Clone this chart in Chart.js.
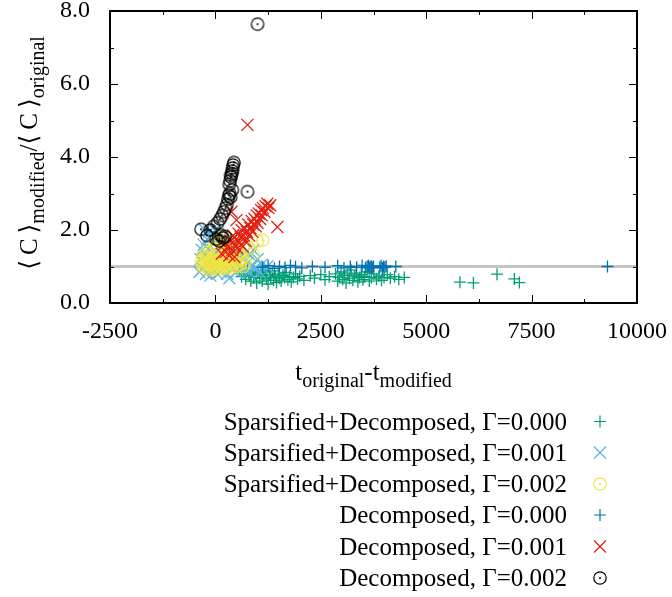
<!DOCTYPE html>
<html>
<head>
<meta charset="utf-8">
<script src="https://cdn.jsdelivr.net/npm/chart.js@4.4.1/dist/chart.umd.min.js"></script>
<style>
  html, body { margin: 0; background: #fff; }
</style>
</head>
<body>
<canvas id="scatterChart" width="672" height="597"></canvas>
<script>
// values: [t_original - t_modified, <C>mod/<C>orig]
const sparseG000 = [
    [570, 0.88], [620, 0.72], [680, 0.80], [720, 0.65], [760, 0.90], [800, 0.75], [840, 0.60], [880, 0.85],
    [910, 0.70], [950, 0.78], [980, 0.55], [1010, 0.82], [1050, 0.68], [1080, 0.90], [1110, 0.60], [1150, 0.75],
    [1180, 0.85], [1210, 0.66], [1250, 0.52], [1280, 0.78], [1310, 0.70], [1350, 0.88], [1380, 0.62], [1420, 0.74],
    [1450, 0.56], [1490, 0.80], [1520, 0.68], [1560, 0.60], [1600, 0.76], [1640, 0.70], [1680, 0.84], [1720, 0.64],
    [1760, 0.72], [1800, 0.58], [1850, 0.70], [1900, 0.80], [1950, 0.66], [2000, 0.73], [2100, 0.62], [2250, 0.75],
    [2350, 0.68], [2500, 0.78], [2600, 0.64], [2700, 0.72], [2850, 0.80], [2900, 0.60], [2940, 0.70], [2980, 0.85],
    [3020, 0.65], [3060, 0.75], [3100, 0.55], [3140, 0.80], [3180, 0.68], [3220, 0.90], [3260, 0.62], [3300, 0.74],
    [3340, 0.82], [3380, 0.58], [3420, 0.70], [3460, 0.78], [3500, 0.64], [3540, 0.72], [3600, 0.85], [3650, 0.60],
    [3700, 0.70], [3760, 0.80], [3820, 0.66], [3880, 0.74], [3940, 0.62], [4000, 0.70], [4080, 0.78], [4150, 0.68],
    [4250, 0.72], [4350, 0.65], [4480, 0.70],
    [5800, 0.57], [6120, 0.55], [6680, 0.79], [7090, 0.66], [7210, 0.56]
];
const sparseG001 = [
    [-380, 0.85], [-350, 1.20], [-320, 1.45], [-300, 0.95], [-280, 1.60], [-250, 1.30], [-220, 0.80], [-200, 1.75],
    [-180, 1.10], [-150, 1.50], [-120, 0.75], [-100, 1.85], [-80, 1.25], [-50, 0.90], [-30, 1.65], [0, 2.00],
    [20, 1.40], [40, 0.80], [60, 1.90], [80, 1.20], [100, 1.60], [120, 0.85], [150, 1.80], [170, 1.35],
    [200, 1.00], [220, 1.70], [250, 1.50], [280, 0.80], [300, 1.25], [330, 1.65], [360, 1.45], [400, 0.90],
    [420, 1.35], [450, 1.60], [480, 1.15], [500, 0.85], [530, 1.45], [560, 1.30], [600, 0.95], [630, 1.55],
    [660, 1.20], [700, 0.90], [730, 1.40], [760, 1.10], [800, 0.85], [830, 1.30], [870, 1.00], [900, 1.45],
    [950, 0.95], [1000, 1.20], [1050, 0.85], [1100, 1.05], [1150, 0.90], [1230, 1.00], [-250, 2.00], [-150, 1.95],
    [330, 0.68]
];
const sparseG002 = [
    [-330, 1.15], [-300, 1.05], [-280, 1.20], [-250, 0.95], [-220, 1.10], [-200, 1.25], [-180, 1.00], [-150, 1.15],
    [-120, 0.92], [-100, 1.05], [-80, 1.20], [-50, 1.10], [-30, 0.95], [0, 1.00], [20, 1.15], [40, 1.30],
    [60, 1.05], [80, 0.90], [100, 1.10], [120, 1.20], [150, 1.00], [170, 1.15], [200, 1.05], [220, 0.95],
    [250, 1.20], [280, 1.10], [300, 1.00], [330, 1.15], [360, 0.95], [400, 1.05], [430, 1.20], [460, 1.10],
    [500, 1.00], [540, 1.15], [580, 1.05], [620, 1.20], [660, 1.00], [700, 1.10],
    [-60, 1.45], [-20, 1.60], [30, 1.50], [80, 1.75], [120, 1.65], [160, 1.85], [200, 1.55], [240, 1.40],
    [300, 1.70], [350, 1.45], [450, 1.50], [520, 1.35], [600, 1.40], [700, 1.60], [800, 1.50], [900, 1.35],
    [1000, 1.70], [1120, 1.72], [-200, 1.40], [-300, 1.30]
];
const decompG000 = [
    [1120, 0.98], [1250, 1.02], [1400, 0.95], [1520, 1.00], [1650, 0.97], [1780, 1.03], [1900, 0.99], [2050, 0.96],
    [2300, 1.00], [2600, 0.98], [2900, 1.02], [3050, 0.96], [3200, 1.00], [3350, 0.98], [3480, 1.03], [3560, 0.97],
    [3600, 1.00], [3630, 1.02], [3650, 0.96], [3670, 0.99], [3700, 1.01], [3720, 0.97], [3750, 1.00], [3900, 0.98],
    [3930, 1.02], [3960, 0.96], [3990, 1.00], [4020, 0.98], [4050, 1.01], [4280, 1.00], [9300, 1.00]
];
const decompG001 = [
    [250, 1.40], [300, 1.55], [330, 1.30], [360, 1.70], [400, 1.45], [420, 1.85], [450, 1.26], [470, 1.60],
    [500, 1.75], [520, 1.50], [550, 1.90], [570, 1.65], [600, 1.80], [620, 2.00], [650, 1.55], [670, 1.85],
    [700, 2.05], [720, 1.70], [750, 1.95], [780, 2.15], [800, 1.85], [830, 2.05], [860, 2.25], [880, 1.95],
    [900, 2.15], [930, 2.30], [960, 2.10], [980, 2.40], [1000, 2.20], [1030, 2.45], [1060, 2.30], [1080, 2.55],
    [1100, 2.40], [1130, 2.60], [1160, 2.50], [1190, 2.65], [1230, 2.72], [1260, 2.60], [1300, 2.68],
    [1470, 2.08], [760, 4.88], [380, 2.50], [500, 2.27], [200, 1.60], [150, 1.35]
];
const decompG002 = [
    [-340, 2.02], [-200, 1.85], [-120, 2.00], [-40, 2.10], [20, 1.75], [50, 2.20], [90, 1.70], [110, 2.30],
    [140, 1.85], [160, 2.40], [180, 1.78], [200, 2.50], [230, 1.82], [240, 2.60], [270, 2.70], [300, 2.85],
    [320, 2.95], [340, 3.00], [400, 3.10], [360, 2.90], [330, 3.25], [350, 3.35], [370, 3.45], [390, 3.55],
    [400, 3.62], [410, 3.70], [420, 3.78], [440, 3.85], [360, 3.50], [760, 3.05], [1000, 7.64]
];

const seriesLabels = [
    'Sparsified+Decomposed, \u0393=0.000',
    'Sparsified+Decomposed, \u0393=0.001',
    'Sparsified+Decomposed, \u0393=0.002',
    'Decomposed, \u0393=0.000',
    'Decomposed, \u0393=0.001',
    'Decomposed, \u0393=0.002'
];
const seriesData = [sparseG000, sparseG001, sparseG002, decompG000, decompG001, decompG002];
const seriesColors = ['#009e73', '#56b4e9', '#f0e442', '#0072b2', '#e51e10', '#000000'];
const seriesMarkers = ['cross', 'crossRot', 'ring', 'cross', 'crossRot', 'ring'];

const xTicks = { min: -2500, max: 10000, step: 1250, labelEvery: 2500 };
const yTicks = { min: 0, max: 8, step: 1, labelEvery: 2 };
const referenceLevel = 1.0;

const SERIF = '"Liberation Serif", "DejaVu Serif", serif';

// gnuplot style circle with a dot in the middle
function ringImage(color) {
    const c = document.createElement('canvas');
    c.width = 16;
    c.height = 16;
    const g = c.getContext('2d');
    g.strokeStyle = color;
    g.fillStyle = color;
    g.lineWidth = 1.2;
    g.beginPath();
    g.arc(8, 8, 6.2, 0, Math.PI * 2);
    g.stroke();
    g.beginPath();
    g.arc(8, 8, 1.0, 0, Math.PI * 2);
    g.fill();
    return c;
}

function markerStyle(i) {
    const m = seriesMarkers[i];
    if (m === 'ring') return { pointStyle: ringImage(seriesColors[i]), radius: 7 };
    if (m === 'crossRot') return { pointStyle: 'crossRot', radius: 8.5 };
    return { pointStyle: 'cross', radius: 6 };
}

// draws text with subscripts, centred on x
function drawRich(ctx, parts, cx, baseline) {
    let total = 0;
    parts.forEach(p => {
        ctx.font = (p.sub ? '20px ' : '25px ') + SERIF;
        p.w = ctx.measureText(p.t).width;
        total += p.w;
    });
    let x = cx - total / 2;
    ctx.textAlign = 'left';
    ctx.textBaseline = 'alphabetic';
    parts.forEach(p => {
        ctx.font = (p.sub ? '20px ' : '25px ') + SERIF;
        ctx.fillText(p.t, x, baseline + (p.sub ? 7 : 0));
        x += p.w;
    });
}

const framePlugin = {
    id: 'gnuplotFrame',
    afterDatasetsDraw(chart) {
        const { ctx, chartArea: a, scales } = chart;
        ctx.save();
        ctx.strokeStyle = '#000';
        ctx.lineWidth = 1;
        ctx.beginPath();
        scales.x.ticks.forEach(t => {
            const px = Math.round(scales.x.getPixelForValue(t.value)) + 0.5;
            const len = t.value % xTicks.labelEvery === 0 ? 8 : 4;
            ctx.moveTo(px, a.bottom); ctx.lineTo(px, a.bottom - len);
            ctx.moveTo(px, a.top); ctx.lineTo(px, a.top + len);
        });
        scales.y.ticks.forEach(t => {
            const py = Math.round(scales.y.getPixelForValue(t.value)) + 0.5;
            const len = t.value % yTicks.labelEvery === 0 ? 8 : 4;
            ctx.moveTo(a.left, py); ctx.lineTo(a.left + len, py);
            ctx.moveTo(a.right, py); ctx.lineTo(a.right - len, py);
        });
        ctx.stroke();
        ctx.lineWidth = 2;
        ctx.strokeRect(a.left, a.top, a.right - a.left, a.bottom - a.top);
        ctx.restore();
    },
    afterDraw(chart) {
        const { ctx, chartArea: a } = chart;
        ctx.save();
        ctx.fillStyle = '#000';

        // x axis title
        drawRich(ctx, [
            { t: 't' }, { t: 'original', sub: true }, { t: '-t' }, { t: 'modified', sub: true }
        ], (a.left + a.right) / 2, 380);

        // y axis title
        ctx.save();
        ctx.translate(37, 153);
        ctx.rotate(-Math.PI / 2);
        drawRich(ctx, [
            { t: '\u27e8\u2009C\u2009\u27e9' }, { t: 'modified', sub: true },
            { t: '/\u27e8\u2009C\u2009\u27e9' }, { t: 'original', sub: true }
        ], 0, 0);
        ctx.restore();

        // legend, text right aligned with marker on the right
        const rowY = [421.5, 452.5, 484, 515, 546.5, 578];
        chart.data.datasets.forEach((ds, i) => {
            if (i >= seriesLabels.length) return;
            const y = rowY[i];
            ctx.font = '25px ' + SERIF;
            ctx.textAlign = 'right';
            ctx.textBaseline = 'alphabetic';
            ctx.fillStyle = '#000';
            ctx.fillText(seriesLabels[i], 567, y + 8);
            ctx.strokeStyle = seriesColors[i];
            ctx.lineWidth = 1.2;
            const st = markerStyle(i);
            Chart.helpers.drawPoint(ctx, {
                pointStyle: st.pointStyle, radius: st.radius, rotation: 0, borderWidth: 1.2
            }, 600, y);
        });
        ctx.restore();
    }
};

const datasets = seriesData.map((points, i) => {
    const st = markerStyle(i);
    return {
        type: 'scatter',
        label: seriesLabels[i],
        data: points.map(p => ({ x: p[0], y: p[1] })),
        pointStyle: st.pointStyle,
        pointRadius: st.radius,
        pointHoverRadius: st.radius,
        borderColor: seriesColors[i],
        backgroundColor: seriesColors[i],
        pointBorderWidth: 1.3,
        order: seriesData.length - i
    };
});

datasets.push({
    type: 'line',
    label: 'reference',
    data: [{ x: xTicks.min, y: referenceLevel }, { x: xTicks.max, y: referenceLevel }],
    borderColor: '#c6c6c6',
    borderWidth: 3,
    pointRadius: 0,
    order: 20
});

new Chart(document.getElementById('scatterChart').getContext('2d'), {
    type: 'scatter',
    data: { datasets: datasets },
    plugins: [framePlugin],
    options: {
        responsive: false,
        animation: false,
        devicePixelRatio: 1,
        layout: { padding: { left: 0, right: 35, top: 11, bottom: 204 } },
        plugins: { legend: { display: false }, tooltip: { enabled: false } },
        scales: {
            x: {
                type: 'linear',
                min: xTicks.min,
                max: xTicks.max,
                grid: { display: false },
                border: { display: false },
                ticks: {
                    stepSize: xTicks.step,
                    autoSkip: false,
                    maxRotation: 0,
                    padding: 6,
                    color: '#000',
                    font: { family: SERIF, size: 24 },
                    callback: v => (v % xTicks.labelEvery === 0 ? String(v) : '')
                },
                afterFit: s => { s.height = 90; s.paddingLeft = 0; s.paddingRight = 0; }
            },
            y: {
                type: 'linear',
                min: yTicks.min,
                max: yTicks.max,
                grid: { display: false },
                border: { display: false },
                ticks: {
                    stepSize: yTicks.step,
                    autoSkip: false,
                    padding: 12,
                    color: '#000',
                    font: { family: SERIF, size: 24 },
                    callback: v => (v % yTicks.labelEvery === 0 ? v.toFixed(1) : '')
                },
                afterFit: s => { s.width = 110; s.paddingTop = 0; s.paddingBottom = 0; }
            }
        }
    }
});
</script>
</body>
</html>
